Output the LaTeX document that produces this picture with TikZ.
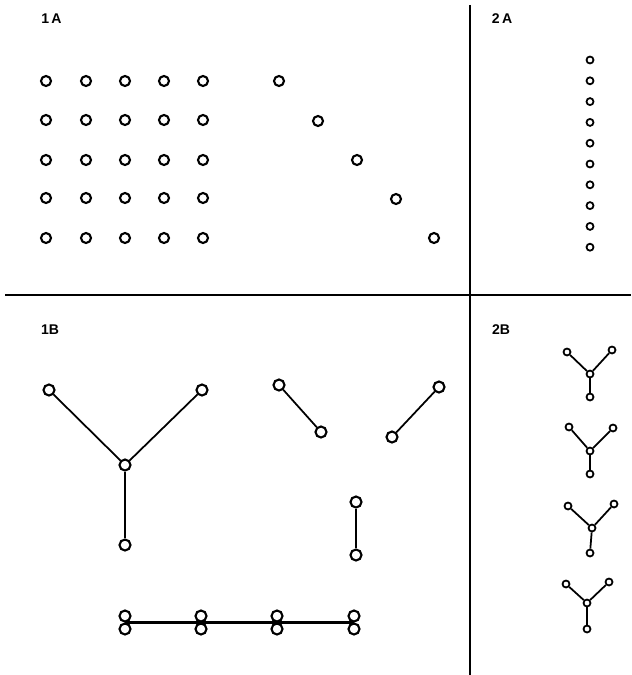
\documentclass[tikz,border=0pt]{standalone}
\usepackage{fontspec}
\setmainfont{Liberation Sans}
\begin{document}
\begin{tikzpicture}[x=0.03cm,y=-0.03cm,
  dot/.style={circle,draw,line width=1.8pt,fill=white,inner sep=0pt,minimum size=0.30cm},
  bdot/.style={circle,draw,line width=1.8pt,fill=white,inner sep=0pt,minimum size=0.33cm},
  sdot/.style={circle,draw,line width=1.5pt,fill=white,inner sep=0pt,minimum size=0.21cm},
  link/.style={line width=1.5pt},
  frame/.style={line width=2pt},
  lab/.style={font=\fontsize{12}{13}\selectfont\bfseries,inner sep=0pt}]
\useasboundingbox (0,0) rectangle (631,675);
% frame lines
\coordinate (hl) at (5,295); \coordinate (hr) at (631,295);
\coordinate (vt) at (470,5); \coordinate (vb) at (470,675);
\draw[frame] (hl) -- (hr);
\draw[frame] (vt) -- (vb);
% labels
\node[lab] (l1a) at (51.5,19) {1\,A};
\node[lab] (l2a) at (502,18.5) {2\,A};
\node[lab] (l1b) at (50,330) {1B};
\node[lab] (l2b) at (501,330) {2B};
% 1A grid
\foreach \c/\x in {1/46,2/86,3/125,4/164,5/203}{
  \foreach \r/\y in {1/81,2/120,3/160,4/198,5/238}{
    \node[dot] (g\r\c) at (\x,\y) {};
  }
}
% 1A diagonal
\node[dot] (d1) at (279,81) {};
\node[dot] (d2) at (318,121) {};
\node[dot] (d3) at (357,160) {};
\node[dot] (d4) at (396,199) {};
\node[dot] (d5) at (434,238) {};
% 2A column
\foreach \i in {0,...,9}{
  \node[sdot] (c\i) at (590,60+20.8*\i) {};
}
% 1B Y
\node[bdot] (yl) at (49,390) {};
\node[bdot] (yr) at (202,390) {};
\node[bdot] (yc) at (125,465) {};
\node[bdot] (yb) at (125,545) {};
\draw[link] (yl) -- (yc);
\draw[link] (yr) -- (yc);
\draw[link] (yc) -- (yb);
% 1B pairs
\node[bdot] (p1a) at (279,385) {};
\node[bdot] (p1b) at (321,432) {};
\draw[link] (p1a) -- (p1b);
\node[bdot] (p2a) at (392,437) {};
\node[bdot] (p2b) at (439,387) {};
\draw[link] (p2a) -- (p2b);
\node[bdot] (p3a) at (356,502) {};
\node[bdot] (p3b) at (356,555) {};
\draw[link] (p3a) -- (p3b);
% 1B bottom row
\foreach \i/\x in {1/125,2/201,3/277,4/354}{
  \node[bdot] (bu\i) at (\x,616) {};
  \node[bdot] (bl\i) at (\x,629) {};
  \coordinate (bm\i) at (\x,622.5);
}
\draw[line width=1.9pt] (bm1) -- (bm4);
% 2B Ys
\foreach \k/\lx/\ly/\rx/\ry/\cx/\cy/\bx/\by in {
  1/567/352/612/350/590/374/590/397,
  2/569/427/613/428/590/451/590/474,
  3/568/506/614/504/592/528/590/553,
  4/566/584/609/582/587/603/587/629}{
  \node[sdot] (t\k l) at (\lx,\ly) {};
  \node[sdot] (t\k r) at (\rx,\ry) {};
  \node[sdot] (t\k c) at (\cx,\cy) {};
  \node[sdot] (t\k b) at (\bx,\by) {};
  \draw[link] (t\k l) -- (t\k c);
  \draw[link] (t\k r) -- (t\k c);
  \draw[link] (t\k c) -- (t\k b);
}
\end{tikzpicture}
\end{document}
